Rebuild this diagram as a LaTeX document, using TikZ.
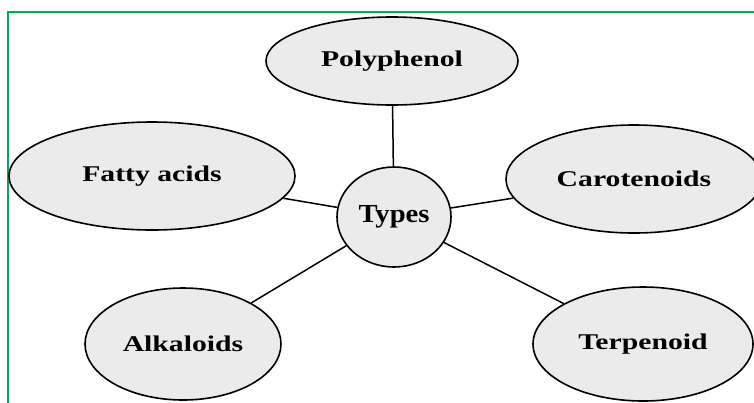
\documentclass[tikz,border=0pt]{standalone}
\usepackage{fontspec}
\setmainfont{Liberation Serif}
\usetikzlibrary{shapes.geometric}
\definecolor{frame}{HTML}{00B050}
\definecolor{bubble}{HTML}{EBEBEB}
\newcommand{\lab}[1]{\scalebox{1.32}[1]{\fontsize{22.5}{26}\selectfont\bfseries #1}}
\tikzset{
  bub/.style={ellipse, draw=black, line width=1.6pt, fill=bubble, inner sep=0pt},
  link/.style={draw=black, line width=1.5pt}
}
\begin{document}
\begin{tikzpicture}[x=1pt,y=-1pt]
\clip (0,0) rectangle (754,402);
\fill[white] (0,0) rectangle (754,402);
\draw[frame, line width=2pt] (8,420) -- (8,12) -- (770,12);
\node[bub, minimum width=252pt, minimum height=88pt] (poly) at (392,61) {\lab{Polyphenol}};
\node[bub, minimum width=286pt, minimum height=108pt] (fatty) at (152,176) {\lab{Fatty acids}};
\node[bub, minimum width=256pt, minimum height=108pt] (caro) at (634,179) {\lab{Carotenoids}};
\node[bub, minimum width=114pt, minimum height=100pt] (types) at (394,217) {\scalebox{1.1}[1]{\fontsize{26}{30}\selectfont\bfseries Types}};
\node[bub, minimum width=196pt, minimum height=112pt] (alk) at (183,344) {\lab{Alkaloids}};
\node[bub, minimum width=220pt, minimum height=114pt] (terp) at (643,344) {\lab{Terpenoid}};
\draw[link] (poly) -- (types);
\draw[link] (fatty) -- (types);
\draw[link] (caro) -- (types);
\draw[link] (alk) -- (types);
\draw[link] (terp) -- (types);
\end{tikzpicture}
\end{document}
